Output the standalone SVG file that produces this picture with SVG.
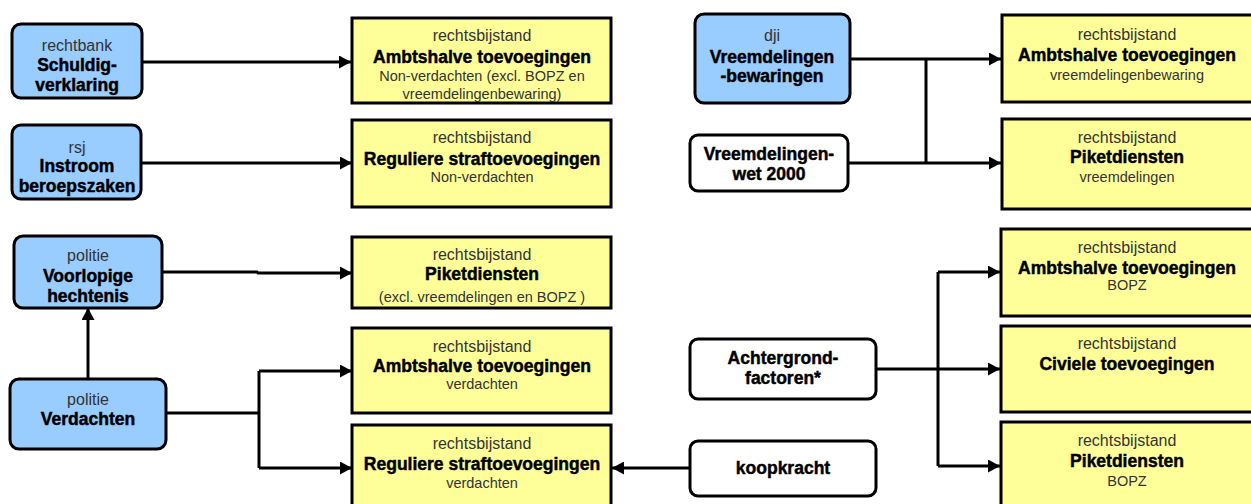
<svg xmlns="http://www.w3.org/2000/svg" width="1251" height="504" viewBox="0 0 1251 504">
<style>
.blue{fill:#99CCFF;stroke:#000;stroke-width:3}
.yel{fill:#FFFF99;stroke:#000;stroke-width:3}
.wht{fill:#FFFFFF;stroke:#000;stroke-width:3}
text{font-family:"Liberation Sans",Arial,sans-serif;text-anchor:middle}
.n{font-size:16px;fill:#333}
.s{font-size:14.5px;fill:#333}
.b{font-size:17.5px;font-weight:bold;fill:#000;stroke:#000;stroke-width:0.45}
.c{fill:none;stroke:#000;stroke-width:3}
</style>
<defs>
<marker id="ah" markerUnits="userSpaceOnUse" markerWidth="12" markerHeight="13" viewBox="0 0 12 13" refX="12" refY="6.5" orient="auto">
<path d="M0,0 L12,6.5 L0,13 z" fill="#000"/>
</marker>
</defs>
<g id="connectors">
<path class="c" d="M142,62 H351" marker-end="url(#ah)"/>
<path class="c" d="M141,163 H352" marker-end="url(#ah)"/>
<path class="c" d="M162,272 H257 L258,273 H352" marker-end="url(#ah)"/>
<path class="c" d="M88,379 V308" marker-end="url(#ah)"/>
<path class="c" d="M166,413 H259"/>
<path class="c" d="M259,371 V468"/>
<path class="c" d="M259,371 H352" marker-end="url(#ah)"/>
<path class="c" d="M259,468 H352" marker-end="url(#ah)"/>
<path class="c" d="M690,468 H612" marker-end="url(#ah)"/>
<path class="c" d="M876,369 H1000" marker-end="url(#ah)"/>
<path class="c" d="M938,272 V466"/>
<path class="c" d="M938,272 H1000" marker-end="url(#ah)"/>
<path class="c" d="M938,466 H1000" marker-end="url(#ah)"/>
<path class="c" d="M850,59 H1001" marker-end="url(#ah)"/>
<path class="c" d="M926,59 V163"/>
<path class="c" d="M848,163 H1001" marker-end="url(#ah)"/>
</g>
<g id="rechtbank">
<rect class="blue" x="12" y="24" width="130" height="74" rx="9"/>
<text class="n" x="77" y="50.5">rechtbank</text>
<text class="b" x="77" y="71">Schuldig-</text>
<text class="b" x="77" y="91">verklaring</text>
</g>
<g id="rsj">
<rect class="blue" x="12" y="125" width="129" height="74" rx="9"/>
<text class="n" x="77" y="152.5">rsj</text>
<text class="b" x="77" y="172">Instroom</text>
<text class="b" x="77" y="192">beroepszaken</text>
</g>
<g id="voorlopige">
<rect class="blue" x="14" y="236" width="148" height="72" rx="9"/>
<text class="n" x="88" y="260.5">politie</text>
<text class="b" x="88" y="282">Voorlopige</text>
<text class="b" x="88" y="302">hechtenis</text>
</g>
<g id="verdachten">
<rect class="blue" x="10" y="379" width="156" height="70" rx="9"/>
<text class="n" x="88" y="404.5">politie</text>
<text class="b" x="88" y="425">Verdachten</text>
</g>
<g id="dji">
<rect class="blue" x="695" y="14" width="155" height="89" rx="9"/>
<text class="n" x="772" y="40.5">dji</text>
<text class="b" x="772" y="62.5">Vreemdelingen</text>
<text class="b" x="772" y="82">-bewaringen</text>
</g>
<g id="vreemdelingenwet">
<rect class="wht" x="690" y="135" width="158" height="56" rx="8"/>
<text class="b" x="769" y="160">Vreemdelingen-</text>
<text class="b" x="769" y="180">wet 2000</text>
</g>
<g id="achtergrond">
<rect class="wht" x="690" y="339" width="186" height="60" rx="8"/>
<text class="b" x="783" y="364">Achtergrond-</text>
<text class="b" x="783" y="384">factoren*</text>
</g>
<g id="koopkracht">
<rect class="wht" x="690" y="441" width="186" height="55" rx="8"/>
<text class="b" x="783" y="474">koopkracht</text>
</g>
<g id="ambtshalve-nonverdachten">
<rect class="yel" x="352" y="18" width="259" height="85"/>
<text class="n" x="482" y="41">rechtsbijstand</text>
<text class="b" x="482" y="62.5">Ambtshalve toevoegingen</text>
<text class="s" x="482" y="81">Non-verdachten (excl. BOPZ en</text>
<text class="s" x="482" y="99">vreemdelingenbewaring)</text>
</g>
<g id="reguliere-nonverdachten">
<rect class="yel" x="352" y="120" width="259" height="87"/>
<text class="n" x="482" y="143.3">rechtsbijstand</text>
<text class="b" x="482" y="164.8">Reguliere straftoevoegingen</text>
<text class="s" x="482" y="182">Non-verdachten</text>
</g>
<g id="piket-excl">
<rect class="yel" x="352" y="237" width="259" height="71"/>
<text class="n" x="482" y="259.5">rechtsbijstand</text>
<text class="b" x="482" y="280">Piketdiensten</text>
<text class="s" x="482" y="301.5">(excl. vreemdelingen en BOPZ )</text>
</g>
<g id="ambtshalve-verdachten">
<rect class="yel" x="352" y="328" width="259" height="85"/>
<text class="n" x="482" y="351.5">rechtsbijstand</text>
<text class="b" x="482" y="372">Ambtshalve toevoegingen</text>
<text class="s" x="482" y="389">verdachten</text>
</g>
<g id="reguliere-verdachten">
<rect class="yel" x="352" y="425" width="259" height="95"/>
<text class="n" x="482" y="448.5">rechtsbijstand</text>
<text class="b" x="482" y="469.5">Reguliere straftoevoegingen</text>
<text class="s" x="482" y="488">verdachten</text>
</g>
<g id="ambtshalve-vreemdelingenbewaring">
<rect class="yel" x="1002" y="15" width="253" height="87"/>
<text class="n" x="1127" y="39.5">rechtsbijstand</text>
<text class="b" x="1127" y="61">Ambtshalve toevoegingen</text>
<text class="s" x="1127" y="80">vreemdelingenbewaring</text>
</g>
<g id="piket-vreemdelingen">
<rect class="yel" x="1002" y="119" width="253" height="90"/>
<text class="n" x="1127" y="142.5">rechtsbijstand</text>
<text class="b" x="1127" y="163">Piketdiensten</text>
<text class="s" x="1127" y="182">vreemdelingen</text>
</g>
<g id="ambtshalve-bopz">
<rect class="yel" x="1001" y="229" width="253" height="87"/>
<text class="n" x="1127" y="252.5">rechtsbijstand</text>
<text class="b" x="1127" y="273.5">Ambtshalve toevoegingen</text>
<text class="s" x="1127" y="290">BOPZ</text>
</g>
<g id="civiele">
<rect class="yel" x="1001" y="326" width="253" height="86"/>
<text class="n" x="1127" y="348.5">rechtsbijstand</text>
<text class="b" x="1127" y="370">Civiele toevoegingen</text>
</g>
<g id="piket-bopz">
<rect class="yel" x="1001" y="422" width="253" height="95"/>
<text class="n" x="1127" y="445.5">rechtsbijstand</text>
<text class="b" x="1127" y="467">Piketdiensten</text>
<text class="s" x="1127" y="486">BOPZ</text>
</g>
</svg>
